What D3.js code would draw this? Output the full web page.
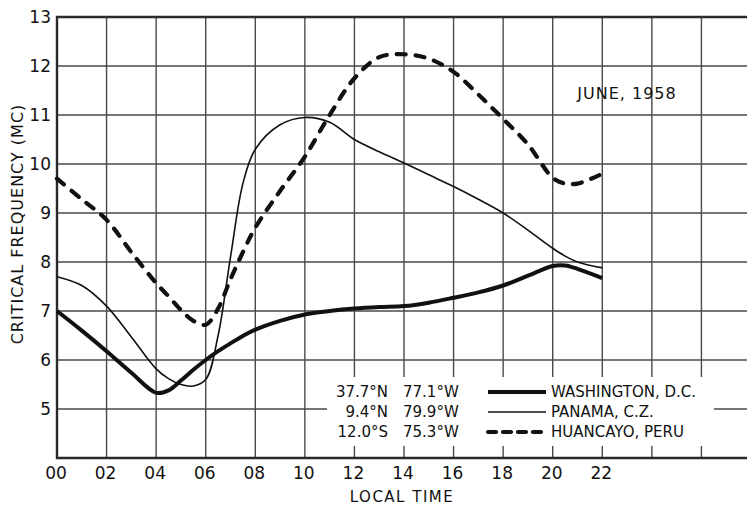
<!DOCTYPE html>
<html>
<head>
<meta charset="utf-8">
<script src="https://cdn.jsdelivr.net/npm/d3@7"></script>
<style>
  body { margin: 0; background: #fff; }
  svg { display: block; font-family: "DejaVu Sans", sans-serif; }
</style>
</head>
<body>
<svg id="chart"></svg>
<script>
// hours of the day (local time) where the curves were read
let hours = [0, 1, 2, 3, 4, 4.5, 5, 5.5, 6, 6.5, 7, 7.5, 8, 9, 10, 11, 12, 13, 14, 15, 16, 17, 18, 19, 20, 20.5, 21, 22];

let washington = [7.0, 6.6, 6.18, 5.74, 5.33, 5.38, 5.58, 5.8, 6.0, 6.18, 6.34, 6.49, 6.62, 6.8, 6.93, 7.0, 7.05, 7.08, 7.1, 7.17, 7.27, 7.38, 7.52, 7.72, 7.92, 7.93, 7.86, 7.67];
let panama = [7.7, 7.52, 7.1, 6.47, 5.82, 5.62, 5.5, 5.47, 5.6, 6.5, 8.1, 9.6, 10.3, 10.8, 10.95, 10.85, 10.5, 10.25, 10.02, 9.78, 9.54, 9.28, 9.0, 8.65, 8.28, 8.12, 8.0, 7.88];
let huancayo = [9.7, 9.28, 8.86, 8.2, 7.57, 7.3, 7.02, 6.8, 6.72, 7.05, 7.65, 8.2, 8.7, 9.45, 10.15, 11.0, 11.75, 12.18, 12.24, 12.15, 11.88, 11.42, 10.92, 10.4, 9.72, 9.6, 9.6, 9.8];

let xTicks = [0, 2, 4, 6, 8, 10, 12, 14, 16, 18, 20, 22];
let xTickLabels = ["00", "02", "04", "06", "08", "10", "12", "14", "16", "18", "20", "22"];
let gridHours = [2, 4, 6, 8, 10, 12, 14, 16, 18, 20, 22, 24, 26];
let yTicks = [5, 6, 7, 8, 9, 10, 11, 12, 13];

let stations = ["WASHINGTON, D.C.", "PANAMA, C.Z.", "HUANCAYO, PERU"];
let latitudes = ["37.7°N", "9.4°N", "12.0°S"];
let longitudes = ["77.1°W", "79.9°W", "75.3°W"];

let width = 747;
let height = 507;

let svg = d3.select("#chart")
  .attr("width", width)
  .attr("height", height)
  .attr("viewBox", `0 0 ${width} ${height}`);

// scales
let x = d3.scaleLinear().domain([0, 28]).range([57, 751]);
let y = d3.scaleLinear().domain([4, 13]).range([458, 17]);

let gridColor = "#4a4a4a";
let ink = "#111";

// grid lines
svg.append("g")
  .selectAll("line")
  .data(gridHours)
  .enter()
  .append("line")
  .attr("x1", d => x(d))
  .attr("x2", d => x(d))
  .attr("y1", y(4))
  .attr("y2", y(13))
  .attr("stroke", gridColor)
  .attr("stroke-width", 1.4);

svg.append("g")
  .selectAll("line")
  .data([5, 6, 7, 8, 9, 10, 11, 12])
  .enter()
  .append("line")
  .attr("x1", x(0))
  .attr("x2", width)
  .attr("y1", d => y(d))
  .attr("y2", d => y(d))
  .attr("stroke", gridColor)
  .attr("stroke-width", 1.4);

// white patch behind the legend
svg.append("rect")
  .attr("x", 327)
  .attr("y", 377)
  .attr("width", 387)
  .attr("height", 69)
  .attr("fill", "#fff");

// frame: left, top, bottom
svg.append("path")
  .attr("d", `M${width},${y(13)}H${x(0)}V${y(4)}H${width}`)
  .attr("fill", "none")
  .attr("stroke", "#2a2a2a")
  .attr("stroke-width", 2.4);

// axis tick labels
svg.append("g")
  .selectAll("text")
  .data(xTicks)
  .enter()
  .append("text")
  .attr("x", d => x(d) - 1)
  .attr("y", 479)
  .attr("text-anchor", "middle")
  .style("font-size", "17px")
  .style("fill", ink)
  .text((d, i) => xTickLabels[i]);

svg.append("g")
  .selectAll("text")
  .data(yTicks)
  .enter()
  .append("text")
  .attr("x", 51)
  .attr("y", d => y(d))
  .attr("dy", "0.36em")
  .attr("text-anchor", "end")
  .style("font-size", "17px")
  .style("fill", ink)
  .text(d => d);

// axis titles
svg.append("text")
  .attr("x", 402)
  .attr("y", 502)
  .attr("text-anchor", "middle")
  .style("font-size", "15px")
  .style("letter-spacing", "1.5px")
  .style("fill", ink)
  .text("LOCAL TIME");

svg.append("text")
  .attr("transform", "translate(23,224) rotate(-90)")
  .attr("text-anchor", "middle")
  .style("font-size", "16px")
  .style("letter-spacing", "1px")
  .style("fill", ink)
  .text("CRITICAL FREQUENCY (MC)");

svg.append("text")
  .attr("x", 627)
  .attr("y", 99)
  .attr("text-anchor", "middle")
  .style("font-size", "16px")
  .style("letter-spacing", "1px")
  .style("fill", ink)
  .text("JUNE, 1958");

// curves
let line = d3.line()
  .x((d, i) => x(hours[i]))
  .y(d => y(d))
  .curve(d3.curveCatmullRom.alpha(0.5));

let styles = [
  { width: 4, dash: null },
  { width: 1.6, dash: null },
  { width: 4.2, dash: "9,10" }
];

[washington, panama, huancayo].forEach(function (series, i) {
  svg.append("path")
    .datum(series)
    .attr("d", line)
    .attr("fill", "none")
    .attr("stroke", ink)
    .attr("stroke-width", styles[i].width)
    .attr("stroke-linecap", styles[i].dash ? "round" : "butt")
    .attr("stroke-linejoin", "round")
    .attr("stroke-dasharray", styles[i].dash);
});

// legend
let rowY = [392, 412, 432];

svg.append("g")
  .selectAll("text")
  .data(latitudes)
  .enter()
  .append("text")
  .attr("x", 388)
  .attr("y", (d, i) => rowY[i])
  .attr("dy", "0.36em")
  .attr("text-anchor", "end")
  .style("font-size", "15px")
  .style("fill", ink)
  .text(d => d);

svg.append("g")
  .selectAll("text")
  .data(longitudes)
  .enter()
  .append("text")
  .attr("x", 403)
  .attr("y", (d, i) => rowY[i])
  .attr("dy", "0.36em")
  .style("font-size", "15px")
  .style("fill", ink)
  .text(d => d);

svg.append("g")
  .selectAll("line")
  .data(stations)
  .enter()
  .append("line")
  .attr("x1", 488)
  .attr("x2", 546)
  .attr("y1", (d, i) => rowY[i])
  .attr("y2", (d, i) => rowY[i])
  .attr("stroke", ink)
  .attr("stroke-width", (d, i) => styles[i].width)
  .attr("stroke-linecap", (d, i) => styles[i].dash ? "round" : "butt")
  .attr("stroke-dasharray", (d, i) => i === 2 ? "8,7" : null);

svg.append("g")
  .selectAll("text")
  .data(stations)
  .enter()
  .append("text")
  .attr("x", 551)
  .attr("y", (d, i) => rowY[i])
  .attr("dy", "0.36em")
  .style("font-size", "15px")
  .style("fill", ink)
  .text(d => d);
</script>
</body>
</html>
